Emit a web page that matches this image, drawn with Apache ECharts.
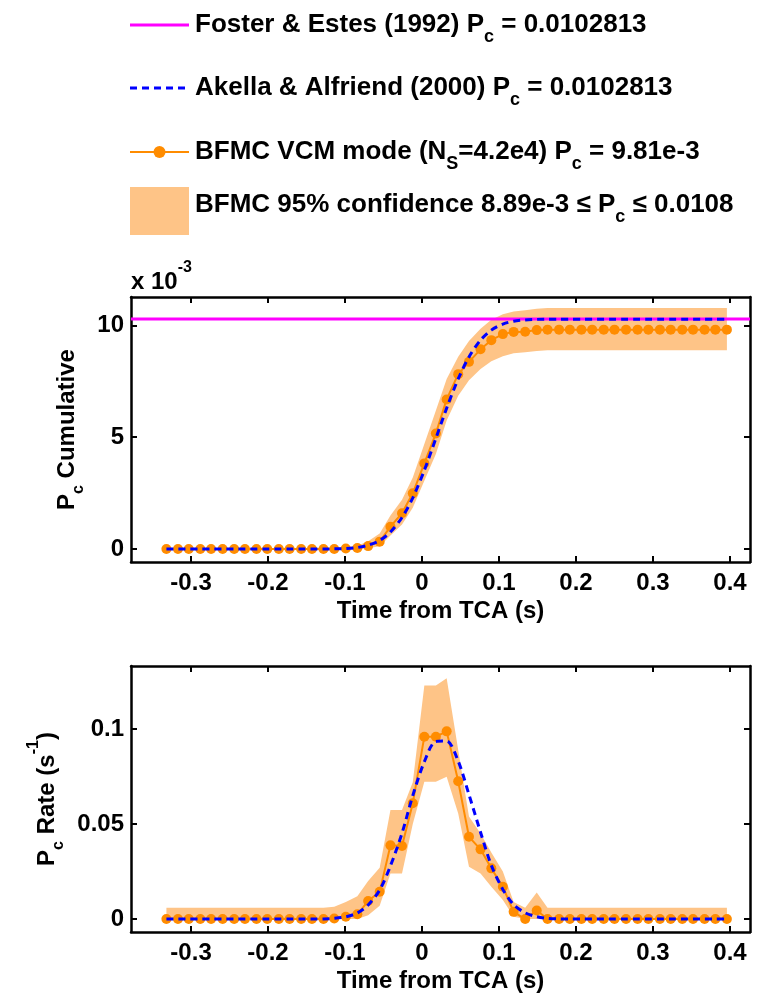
<!DOCTYPE html>
<html>
<head>
<meta charset="utf-8">
<script src="https://cdn.jsdelivr.net/npm/echarts@6/dist/echarts.min.js"></script>
<style>
  html, body { margin: 0; padding: 0; background: #fff; }
  #main { width: 759px; height: 994px; }
</style>
</head>
<body>
<div id="main"></div>
<script>
var chartDom = document.getElementById('main')
var myChart = echarts.init(chartDom)

// time from TCA (s) of the BFMC sample points
const time = [-0.332, -0.317, -0.303, -0.288, -0.274, -0.259, -0.244, -0.230, -0.215, -0.201,
  -0.186, -0.172, -0.157, -0.143, -0.128, -0.114, -0.099, -0.084, -0.070, -0.055,
  -0.041, -0.026, -0.012, 0.003, 0.018, 0.032, 0.047, 0.061, 0.076, 0.090,
  0.105, 0.119, 0.134, 0.149, 0.163, 0.178, 0.192, 0.207, 0.221, 0.236,
  0.250, 0.265, 0.280, 0.294, 0.309, 0.323, 0.338, 0.352, 0.367, 0.381, 0.396]

// cumulative Pc, in units of 1e-3
const cumBfmc = [0, 0, 0, 0, 0, 0, 0, 0, 0, 0, 0, 0, 0, 0, 0, 0,
  0.02, 0.05, 0.13, 0.33, 1.0, 1.6, 2.49, 3.83, 5.17, 6.69, 7.82, 8.37, 8.93, 9.34, 9.61, 9.71, 9.72, 9.79,
  9.81, 9.81, 9.81, 9.81, 9.81, 9.81, 9.81, 9.81, 9.81, 9.81, 9.81, 9.81, 9.81, 9.81, 9.81, 9.81, 9.81]
const cumUpper = [0.05, 0.05, 0.05, 0.05, 0.05, 0.05, 0.05, 0.05, 0.05, 0.05, 0.05, 0.05, 0.05, 0.05, 0.05, 0.05,
  0.08, 0.15, 0.35, 0.7, 1.5, 2.2, 3.2, 4.7, 6.2, 7.6, 8.6, 9.3, 9.85, 10.25, 10.5, 10.62, 10.68, 10.75,
  10.78, 10.78, 10.78, 10.78, 10.78, 10.78, 10.78, 10.78, 10.78, 10.78, 10.78, 10.78, 10.78, 10.78, 10.78, 10.78, 10.78]
const cumLower = [0, 0, 0, 0, 0, 0, 0, 0, 0, 0, 0, 0, 0, 0, 0, 0,
  0, 0.01, 0.03, 0.12, 0.6, 1.1, 1.85, 3.05, 4.25, 5.75, 6.85, 7.55, 8.05, 8.4, 8.62, 8.75, 8.8, 8.86,
  8.89, 8.89, 8.89, 8.89, 8.89, 8.89, 8.89, 8.89, 8.89, 8.89, 8.89, 8.89, 8.89, 8.89, 8.89, 8.89, 8.89]
const cumAkella = [0, 0, 0, 0, 0, 0, 0, 0, 0, 0, 0, 0, 0, 0, 0,
  0.007, 0.024, 0.068, 0.17, 0.38, 0.76, 1.41, 2.29, 3.52, 4.95, 6.30, 7.61, 8.59, 9.34, 9.79, 10.06, 10.186, 10.246, 10.269, 10.277,
  10.28, 10.28, 10.28, 10.28, 10.28, 10.28, 10.28, 10.28, 10.28, 10.28, 10.28, 10.28, 10.28, 10.28, 10.28, 10.28]
const fosterPc = 10.2813

// Pc rate (1/s)
const rateBfmc = [0, 0, 0, 0, 0, 0, 0, 0, 0, 0, 0, 0, 0, 0, 0,
  0.0003, 0.0012, 0.0025, 0.0095, 0.0144, 0.0388, 0.0385, 0.061, 0.096, 0.096, 0.0988, 0.0725, 0.0433, 0.0367, 0.0267, 0.017, 0.0038, 0, 0.0045,
  0, 0, 0, 0, 0, 0, 0, 0, 0, 0, 0, 0, 0, 0, 0, 0, 0]
const rateUpper = [0.006, 0.006, 0.006, 0.006, 0.006, 0.006, 0.006, 0.006, 0.006, 0.006, 0.006, 0.006, 0.006, 0.006, 0.006,
  0.0065, 0.009, 0.012, 0.02, 0.027, 0.0574, 0.0574, 0.072, 0.123, 0.123, 0.1267, 0.089, 0.054, 0.045, 0.035, 0.025, 0.009, 0.006, 0.014,
  0.006, 0.006, 0.006, 0.006, 0.006, 0.006, 0.006, 0.006, 0.006, 0.006, 0.006, 0.006, 0.006, 0.006, 0.006, 0.006, 0.006]
const rateLower = [0, 0, 0, 0, 0, 0, 0, 0, 0, 0, 0, 0, 0, 0, 0, 0, 0, 0,
  0.002, 0.007, 0.024, 0.024, 0.05, 0.0723, 0.0723, 0.0749, 0.0556, 0.0275, 0.024, 0.017, 0.010, 0.0012,
  0, 0, 0, 0, 0, 0, 0, 0, 0, 0, 0, 0, 0, 0, 0, 0, 0, 0, 0]
const rateAkella = [0, 0, 0, 0, 0, 0, 0, 0, 0, 0, 0, 0, 0, 0,
  0.0001, 0.0004, 0.0012, 0.0032, 0.0074, 0.0153, 0.0280, 0.0452, 0.0650, 0.0828, 0.0935, 0.0937, 0.0831, 0.0655, 0.0457, 0.0283, 0.0156, 0.0076, 0.0033, 0.0013, 0.0004, 0.0001,
  0, 0, 0, 0, 0, 0, 0, 0, 0, 0, 0, 0, 0, 0, 0]

const xTicks = [-0.3, -0.2, -0.1, 0, 0.1, 0.2, 0.3, 0.4]
const cumTicks = [0, 5, 10]
const rateTicks = [0, 0.05, 0.1]

const legendNames = [
  '{m|Foster & Estes (1992) P}{s|c}{m| = 0.0102813}',
  '{m|Akella & Alfriend (2000) P}{s|c}{m| = 0.0102813}',
  '{m|BFMC VCM mode (N}{s|S}{m|=4.2e4) P}{s|c}{m| = 9.81e-3}',
  '{m|BFMC 95% confidence 8.89e-3 \u2264 P}{s|c}{m| \u2264 0.0108}'
]

const FONT = '"Liberation Sans", Arial, Helvetica, sans-serif'
const ORANGE = '#FF8C00'
const BAND = '#FEC487'
const BLUE = '#0000FF'
const MAGENTA = '#FF00FF'

// rich styles for main text, subscript (s) and superscript (u)
function rich(size) {
  const q = Math.round(size * 0.42)
  const mc = q + size / 2
  const sub = Math.round(size * 0.68)
  return {
    m: { fontSize: size, lineHeight: size, fontWeight: 'bold', fontFamily: FONT, color: '#000', verticalAlign: 'top', padding: [q, 0, 0, 0] },
    s: { fontSize: sub, lineHeight: sub, fontWeight: 'bold', fontFamily: FONT, color: '#000', verticalAlign: 'top', padding: [Math.round(mc + size * 0.46 - sub / 2), 0, 0, 0] },
    u: { fontSize: sub, lineHeight: sub, fontWeight: 'bold', fontFamily: FONT, color: '#000', verticalAlign: 'top', padding: [Math.max(0, Math.round(mc - size * 0.58 - sub / 2)), 0, 0, 0] }
  }
}
function mainCenter(size) { return Math.round(size * 0.42) + size / 2 }

const pairs = ys => time.map((t, i) => [t, ys[i]])

const grids = [
  { left: 131, top: 297, width: 619, height: 265 },
  { left: 131, top: 666, width: 619, height: 266 }
]
const X_MIN = -0.378, X_MAX = 0.426

function xAxes(gridIndex) {
  const base = {
    gridIndex, type: 'value', min: X_MIN, max: X_MAX,
    splitLine: { show: false },
    axisLine: { show: true, onZero: false, lineStyle: { color: '#000', width: 2.5 } },
    axisTick: { show: true, inside: true, length: 6, customValues: xTicks, lineStyle: { color: '#000', width: 2 } }
  }
  return [
    Object.assign({}, base, {
      position: 'bottom',
      axisLabel: { customValues: xTicks, margin: 9, color: '#000', fontSize: 24, fontWeight: 'bold', fontFamily: FONT },
      name: 'Time from TCA (s)', nameLocation: 'middle', nameGap: 37,
      nameTextStyle: { color: '#000', fontSize: 24, fontWeight: 'bold', fontFamily: FONT }
    }),
    Object.assign({}, base, { position: 'top', axisLabel: { show: false } })
  ]
}
function yAxes(gridIndex, min, max, ticks, name, gap) {
  const base = {
    gridIndex, type: 'value', min, max,
    splitLine: { show: false },
    axisLine: { show: true, onZero: false, lineStyle: { color: '#000', width: 2.5 } },
    axisTick: { show: true, inside: true, length: 6, customValues: ticks, lineStyle: { color: '#000', width: 2 } }
  }
  return [
    Object.assign({}, base, {
      position: 'left',
      axisLabel: { customValues: ticks, margin: 7, color: '#000', fontSize: 24, fontWeight: 'bold', fontFamily: FONT },
      name, nameLocation: 'middle', nameRotate: 90, nameGap: gap,
      nameTextStyle: { rich: rich(24) }
    }),
    Object.assign({}, base, { position: 'right', axisLabel: { show: false } })
  ]
}

// confidence band as one polygon: upper edge forward, lower edge back
function bandSeries(ax, lower, upper) {
  return {
    type: 'custom', xAxisIndex: ax, yAxisIndex: ax, z: 1, silent: true,
    data: time.map((t, i) => [t, lower[i], upper[i]]),
    encode: { x: 0, y: [1, 2] },
    renderItem: (params, api) => {
      if (params.dataIndex !== 0) return null
      const pts = []
      for (let i = 0; i < time.length; i++) pts.push(api.coord([time[i], upper[i]]))
      for (let i = time.length - 1; i >= 0; i--) pts.push(api.coord([time[i], lower[i]]))
      return { type: 'polygon', shape: { points: pts }, style: { fill: BAND } }
    }
  }
}
function bfmcSeries(ax, ys) {
  return { type: 'line', xAxisIndex: ax, yAxisIndex: ax, data: pairs(ys), symbol: 'circle', symbolSize: 10, itemStyle: { color: ORANGE }, lineStyle: { color: ORANGE, width: 2 }, z: 3 }
}
function akellaSeries(ax, ys) {
  return { type: 'line', xAxisIndex: ax, yAxisIndex: ax, data: pairs(ys), smooth: 0.3, symbol: 'none', lineStyle: { color: BLUE, width: 3, type: [7, 5] }, z: 4 }
}

// legend drawn as graphics
const legendY = [25, 88, 152, 205]
const LG = 26
const legendGraphics = [
  { type: 'line', shape: { x1: 130, y1: legendY[0], x2: 189, y2: legendY[0] }, style: { stroke: MAGENTA, lineWidth: 3 } },
  { type: 'line', shape: { x1: 130, y1: legendY[1], x2: 189, y2: legendY[1] }, style: { stroke: BLUE, lineWidth: 3, lineDash: [7, 5] } },
  { type: 'line', shape: { x1: 130, y1: legendY[2], x2: 189, y2: legendY[2] }, style: { stroke: ORANGE, lineWidth: 2 } },
  { type: 'circle', shape: { cx: 159.5, cy: legendY[2], r: 6 }, style: { fill: ORANGE } },
  { type: 'rect', shape: { x: 130, y: 187, width: 59, height: 48 }, style: { fill: BAND } }
].concat(legendNames.map((txt, i) => ({
  type: 'text', x: 195, y: legendY[i] - mainCenter(LG),
  style: { text: txt, rich: rich(LG), verticalAlign: 'top', align: 'left' }
})))

const option = {
  animation: false,
  backgroundColor: '#fff',
  grid: grids,
  xAxis: xAxes(0).concat(xAxes(1)),
  yAxis: yAxes(0, -0.58, 11.27, cumTicks, '{m|P}{s|c}{m| Cumulative}', 47)
    .concat(yAxes(1, -0.0068, 0.1332, rateTicks, '{m|P}{s|c}{m| Rate (s}{u|-1}{m|)}', 68)),
  graphic: legendGraphics.concat([
    { type: 'text', x: 131, y: 282 - mainCenter(24), style: { text: '{m|x 10}{u|-3}', rich: rich(24), verticalAlign: 'top', align: 'left' } }
  ]),
  series: [
    bandSeries(0, cumLower, cumUpper),
    { type: 'line', xAxisIndex: 0, yAxisIndex: 0, data: [[X_MIN, fosterPc], [X_MAX, fosterPc]], symbol: 'none', lineStyle: { color: MAGENTA, width: 3 }, z: 2 },
    bfmcSeries(0, cumBfmc),
    akellaSeries(0, cumAkella),
    bandSeries(2, rateLower, rateUpper),
    bfmcSeries(2, rateBfmc),
    akellaSeries(2, rateAkella)
  ]
}

option && myChart.setOption(option)
</script>
</body>
</html>
